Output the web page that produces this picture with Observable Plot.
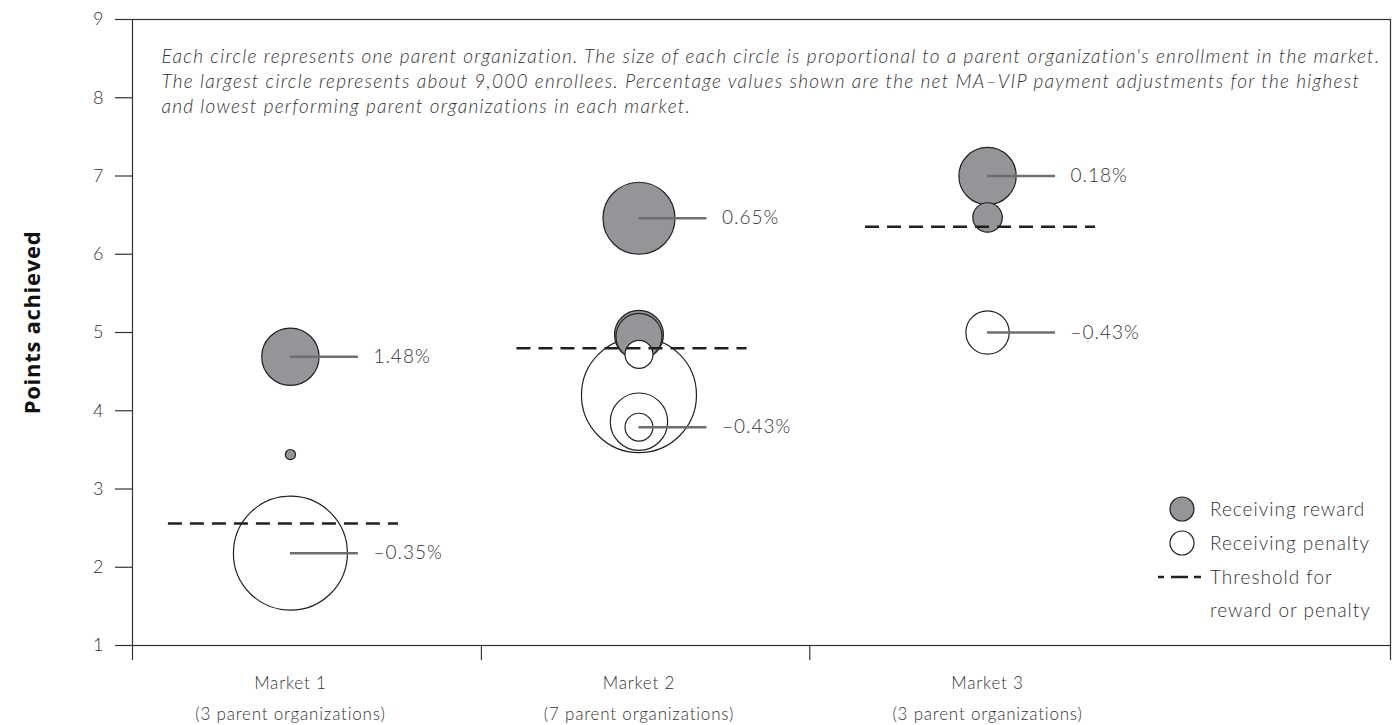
<!DOCTYPE html>
<html><head><meta charset="utf-8">
<script src="https://cdn.jsdelivr.net/npm/d3@7"></script>
<script src="https://cdn.jsdelivr.net/npm/@observablehq/plot@0.6"></script>
<style>
body{margin:0;background:#fff;}
#wrap{position:relative;width:1396px;height:725px;overflow:hidden;}
#legend{position:absolute;left:0;top:0;pointer-events:none;}
#legend text{font-family:Lato,sans-serif;font-weight:300;font-size:19px;letter-spacing:1px;fill:#333;}
</style></head><body><div id="wrap"></div>
<script>
// ---- data ----
const markets = [1, 2, 3];
const marketLabels = ["Market 1", "Market 2", "Market 3"];
const marketOrgCounts = ["(3 parent organizations)", "(7 parent organizations)", "(3 parent organizations)"];
const marketBoundaries = [0.547, 1.548, 2.49, 4.156];
const thresholds = [2.56, 4.8, 6.35];
const orgMarket = [1, 1, 1, 2, 2, 2, 2, 2, 2, 2, 3, 3, 3];
const orgPoints = [4.69, 3.44, 2.18, 6.46, 4.97, 4.95, 4.72, 4.2, 3.86, 3.79, 7.0, 6.47, 5.0];
const orgEnroll = [2240, 70, 8840, 3530, 1630, 1440, 530, 9000, 2240, 530, 2240, 590, 1280];
const orgReward = [true, true, false, true, true, true, false, false, false, false, true, true, false];
const orgAdjust = ["1.48%", null, "–0.35%", "0.65%", null, null, null, null, null, "–0.43%", "0.18%", null, "–0.43%"];
const yTicks = [1, 2, 3, 4, 5, 6, 7, 8, 9];
const noteLines = [
  "Each circle represents one parent organization. The size of each circle is proportional to a parent organization's enrollment in the market.",
  "The largest circle represents about 9,000 enrollees. Percentage values shown are the net MA–VIP payment adjustments for the highest",
  "and lowest performing parent organizations in each market."
];
const legendItems = ["Receiving reward", "Receiving penalty", "Threshold for", "reward or penalty"];

// ---- tables ----
const orgs = orgMarket.map((m, i) => ({market: m, points: orgPoints[i], enroll: orgEnroll[i], reward: orgReward[i], adj: orgAdjust[i]}))
  .sort((a, b) => b.enroll - a.enroll);
const labeled = orgs.filter(d => d.adj);
const thr = markets.map((m, i) => ({market: m, t: thresholds[i]}));

const GRAY = "#939598", INK = "#231f20", LEAD = "#6d6e71";

const chart = Plot.plot({
  width: 1396, height: 725,
  marginLeft: 132, marginRight: 6, marginTop: 19, marginBottom: 80,
  style: {fontFamily: "Lato, sans-serif", fontWeight: 300, fontSize: "17px", color: "#333", background: "#fff"},
  x: {domain: [marketBoundaries[0], marketBoundaries[marketBoundaries.length - 1]], axis: null},
  y: {domain: [1, 9], axis: null},
  r: {type: "sqrt", domain: [0, 9000], range: [0, 57.5]},
  marks: [
    Plot.dot(orgs, {x: "market", y: "points", r: "enroll", fill: d => d.reward ? GRAY : "#fff", stroke: INK, strokeWidth: 1.2}),
    Plot.ruleY(labeled, {y: "points", x1: "market", x2: d => d.market + 0.195, stroke: LEAD, strokeWidth: 2.5}),
    Plot.text(labeled, {x: "market", y: "points", text: "adj", dx: 83, textAnchor: "start", fontSize: 19, fill: "#333"}),
    Plot.ruleY(thr, {y: "t", x1: d => d.market - 0.35, x2: d => d.market + 0.31, stroke: INK, strokeWidth: 2.5, strokeDasharray: "14,8"}),
    Plot.frame({stroke: "#333", strokeWidth: 1.2}),
    Plot.axisY(yTicks, {tickSize: 17, tickPadding: 12, fontSize: 18, label: null, stroke: "#333", strokeWidth: 1.2, tickFormat: d => String(d)}),
    Plot.axisX(marketBoundaries, {tickSize: 15, tickFormat: () => "", label: null, stroke: "#333", strokeWidth: 1.2}),
    Plot.text(markets, {x: d => d, text: d => marketLabels[d - 1] + "\n" + marketOrgCounts[d - 1], frameAnchor: "bottom", dy: 21, lineAnchor: "top", lineHeight: 1.85, fontSize: 17, fill: "#333"}),
    Plot.text([noteLines.join("\n")], {frameAnchor: "top-left", dx: 29, dy: 25, lineAnchor: "top", textAnchor: "start", lineHeight: 1.34, fontSize: 19, fontStyle: "italic", fill: "#333"}),
    Plot.text(["Points achieved"], {frameAnchor: "left", dx: -100, dy: -10, rotate: -90, textAnchor: "middle", fontSize: 22, fontWeight: "bold", fill: "#111", fontFamily: "'Open Sans', sans-serif"})
  ]
});
const wrap = document.getElementById("wrap");
wrap.appendChild(chart);

// letter spacing per text mark (to approximate the wide geometric typeface)
const textGroups = chart.querySelectorAll('g[aria-label="text"]');
const spacing = ["1px", "0.8px", "1.25px", "0.7px"];
textGroups.forEach((g, i) => { if (spacing[i]) g.style.letterSpacing = spacing[i]; });

// legend overlay
const ns = "http://www.w3.org/2000/svg";
const lg = document.createElementNS(ns, "svg");
lg.setAttribute("id", "legend"); lg.setAttribute("width", 1396); lg.setAttribute("height", 725);
function el(tag, attrs, txt) { const e = document.createElementNS(ns, tag); for (const k in attrs) e.setAttribute(k, attrs[k]); if (txt) e.textContent = txt; lg.appendChild(e); return e; }
el("circle", {cx: 1182, cy: 509, r: 12, fill: GRAY, stroke: INK, "stroke-width": 1.2});
el("circle", {cx: 1182, cy: 543, r: 12, fill: "#fff", stroke: INK, "stroke-width": 1.2});
el("line", {x1: 1158, x2: 1201, y1: 577, y2: 577, stroke: INK, "stroke-width": 2.5, "stroke-dasharray": "6 7 17 6 8"});
const ly = [509, 543, 577, 610];
legendItems.forEach((t, i) => el("text", {x: 1210, y: ly[i], dy: "0.35em"}, t));
wrap.appendChild(lg);
</script></body></html>
